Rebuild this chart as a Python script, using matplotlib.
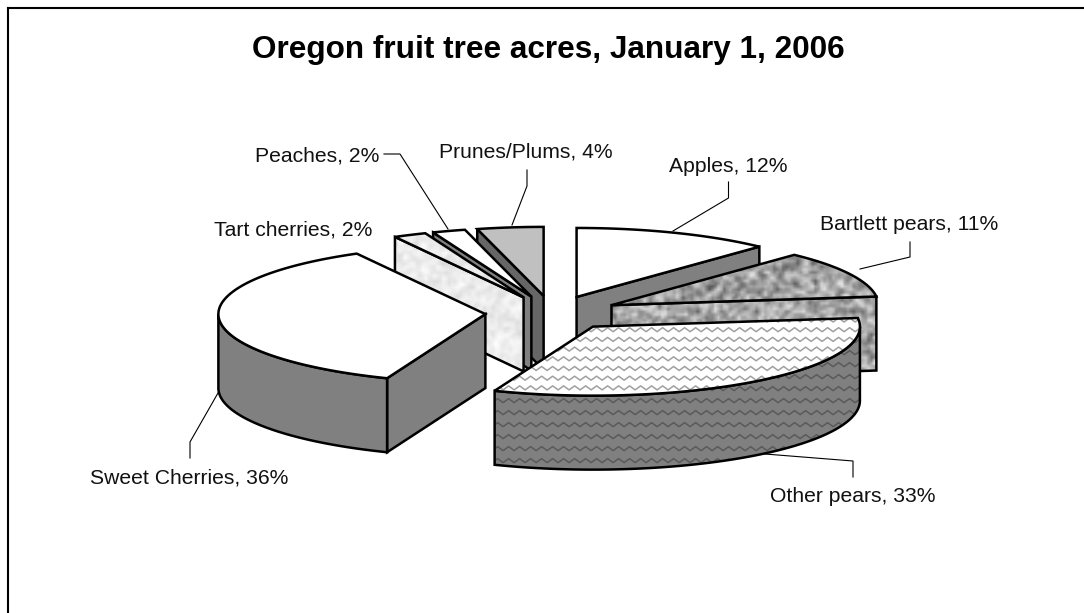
import matplotlib
matplotlib.use("Agg")
import matplotlib.pyplot as plt
from matplotlib.patches import Polygon
import numpy as np

plt.rcParams["font.family"] = ["Liberation Sans", "DejaVu Sans"]

# Data
categories = ["Apples", "Bartlett pears", "Other pears", "Sweet Cherries",
              "Tart cherries", "Peaches", "Prunes/Plums"]
shares = [12, 11, 33, 36, 2, 2, 4]
title = "Oregon fruit tree acres, January 1, 2006"

# Pie projection, in pixels
CENTER = (552, 313)
RX, RY = 267, 69
DEPTH = 74
EXPLODE = 0.25

# slice index: top fill, wall fill, texture
STYLES = {
    0: ("white", "#808080", None),
    1: ("#b0b0b0", "#b0b0b0", "dark"),
    2: ("white", "#808080", "zigzag"),
    3: ("white", "#808080", None),
    4: ("#eeeeee", "#eeeeee", "light"),
    5: ("white", "#808080", None),
    6: ("#c0c0c0", "#666666", None),
}
# back to front
DRAW_ORDER = [0, 1, 6, 5, 4, 3, 2]

# label text anchor (left, baseline) and leader line points
LABEL_POS = {
    0: (669, 172), 1: (820, 230), 2: (770, 502), 3: (90, 483),
    4: (214, 235), 5: (255, 161), 6: (439, 158),
}
LEADERS = {
    0: [(673, 231), (728.5, 198), (728.5, 182)],
    1: [(860, 269), (910, 257), (910, 242)],
    2: [(765, 454), (853, 461), (853, 477)],
    3: [(218, 393), (190, 442), (190, 458)],
    5: [(448, 229), (400, 154), (384, 154)],
    6: [(512, 225), (527, 186), (527, 170)],
}


def rim(apex, angles):
    a = np.radians(angles)
    return np.column_stack([apex[0] + RX * np.sin(a), apex[1] - RY * np.cos(a)])


def speckle(shape, low, high, seed):
    # deterministic hash noise, softened by averaging neighbours
    i, j = np.indices(shape)
    n = np.sin(i * 12.9898 + j * 78.233 + seed) * 43758.5453
    n = n - np.floor(n)
    n = (n + np.roll(n, 1, 0) + np.roll(n, 1, 1) + np.roll(n, (1, 1), (0, 1))) / 4
    n = (n - n.min()) / (n.max() - n.min())
    return low + (high - low) * n


def add_texture(ax, patch, kind, wall, zorder):
    x0, y0 = patch.get_xy().min(axis=0)
    x1, y1 = patch.get_xy().max(axis=0)
    if kind == "zigzag":
        color = "#5a5a5a" if wall else "#a0a0a0"
        step = 12 if wall else 9.7
        xs = np.arange(x0 - 8, x1 + 8, 5.5)
        wave = np.where(np.arange(len(xs)) % 2 == 0, 0, 4)
        for y in np.arange(y0, y1 + step, step):
            line, = ax.plot(xs, y + wave, color=color, lw=1.1, zorder=zorder,
                            solid_joinstyle="round")
            line.set_clip_path(patch)
    else:
        low, high = (90, 235) if kind == "dark" else (215, 255)
        ny = int((y1 - y0) / 3) + 2
        nx = int((x1 - x0) / 3) + 2
        img = speckle((ny, nx), low, high, seed=wall * 3 + len(kind))
        im = ax.imshow(img, extent=(x0, x1, y1, y0), cmap="gray", vmin=0, vmax=255,
                       interpolation="bilinear", aspect="auto", zorder=zorder)
        im.set_clip_path(patch)


def add_face(ax, pts, fill, kind, wall, zorder):
    patch = Polygon(pts, closed=True, facecolor=fill, edgecolor="none", zorder=zorder)
    ax.add_patch(patch)
    if kind:
        add_texture(ax, patch, kind, wall, zorder)
    edge = Polygon(pts, closed=True, facecolor="none", edgecolor="black", lw=1.8,
                   joinstyle="miter", zorder=zorder)
    ax.add_patch(edge)


fig = plt.figure(figsize=(10.84, 6.13), dpi=100)
ax = fig.add_axes([0, 0, 1, 1])

bounds = np.cumsum([0] + shares) / sum(shares) * 360

z = 2
for idx in DRAW_ORDER:
    a0, a1 = bounds[idx], bounds[idx + 1]
    mid = np.radians((a0 + a1) / 2)
    apex = (CENTER[0] + EXPLODE * RX * np.sin(mid), CENTER[1] - EXPLODE * RY * np.cos(mid))
    top_fill, wall_fill, kind = STYLES[idx]
    down = np.array([0, DEPTH])

    # radial walls facing the viewer
    for edge_angle, visible in ((a0, np.sin(np.radians(a0)) < -1e-6),
                                (a1, np.sin(np.radians(a1)) > 1e-6)):
        if visible:
            p = rim(apex, [edge_angle])[0]
            q = np.array(apex)
            add_face(ax, [q, p, p + down, q + down], wall_fill, kind, True, z)
            z += 1

    # outer rim wall, front half only
    lo, hi = max(a0, 90), min(a1, 270)
    if lo < hi:
        arc = rim(apex, np.linspace(lo, hi, 120))
        add_face(ax, np.vstack([arc, arc[::-1] + down]), wall_fill, kind, True, z)
        z += 1

    arc = rim(apex, np.linspace(a0, a1, 160))
    add_face(ax, np.vstack([[apex], arc]), top_fill, kind, False, z)
    z += 1

for idx, pts in LEADERS.items():
    pts = np.array(pts)
    ax.plot(pts[:, 0], pts[:, 1], color="black", lw=0.8, zorder=z)

for idx, name in enumerate(categories):
    x, y = LABEL_POS[idx]
    ax.text(x, y, f"{name}, {shares[idx]}%", fontsize=15.2, color="#111111",
            ha="left", va="baseline", zorder=z)

ax.text(548, 58, title, fontsize=22.7, fontweight="bold", ha="center", va="baseline")

# chart area border, only top and left fall inside the crop
ax.plot([8, 8], [613, 8], color="black", lw=1.5, zorder=1)
ax.plot([8, 1084], [8, 8], color="black", lw=1.5, zorder=1)

ax.set_xlim(0, 1084)
ax.set_ylim(613, 0)
ax.axis("off")

fig.savefig("out.png", dpi=100)
